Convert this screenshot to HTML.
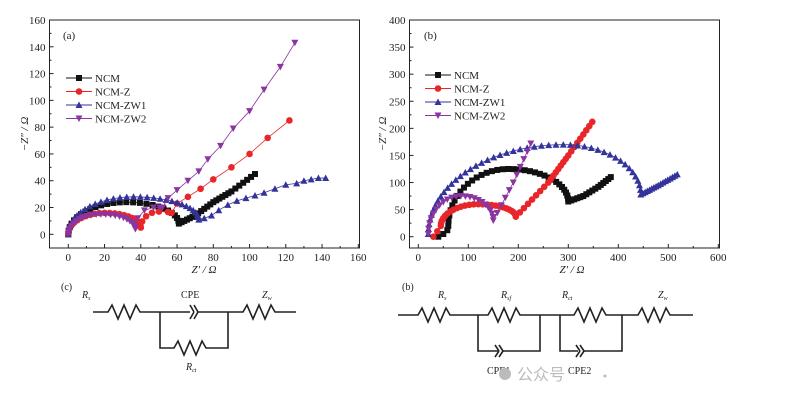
<!DOCTYPE html>
<html><head><meta charset="utf-8"><style>
html,body{margin:0;padding:0;background:#fff}
svg{display:block;font-family:"Liberation Serif",serif}
</style></head><body>
<svg id="s" width="799" height="404" viewBox="0 0 799 404" xmlns="http://www.w3.org/2000/svg">
<rect width="799" height="404" fill="#fff"/>
<rect x="49.5" y="20" width="310" height="228" fill="none" stroke="#222" stroke-width="1"/>
<rect x="409.5" y="20" width="310" height="228" fill="none" stroke="#222" stroke-width="1"/>
<g font-size="11" fill="#222">
<text x="63" y="39">(a)</text>
<text x="424" y="39">(b)</text>
<text x="204" y="273" text-anchor="middle" font-style="italic">Z′ / Ω</text>
<text x="572" y="273" text-anchor="middle" font-style="italic">Z′ / Ω</text>
<text transform="translate(28,134) rotate(-90)" text-anchor="middle" font-style="italic">−Z″ / Ω</text>
<text transform="translate(386,134) rotate(-90)" text-anchor="middle" font-style="italic">−Z″ / Ω</text>
</g>
<g id="ax" font-size="11" fill="#222" stroke="none"></g>
<g id="data"></g>
<g stroke="#222" stroke-width="1.6" fill="none">
<polyline points="93,312 108,312 112,305 118,319 124,305 130,319 136,305 140,312 160,312 190,312"/>
<line x1="190" y1="305" x2="194" y2="312"/><line x1="190" y1="319" x2="194" y2="312"/>
<line x1="194" y1="305" x2="198" y2="312"/><line x1="194" y1="319" x2="198" y2="312"/>
<polyline points="198,312 228,312 243,312 247,305 253,319 259,305 265,319 271,305 275,312 296,312"/>
<polyline points="160,312 160,348 174,348 178,341 184,355 190,341 196,355 202,341 206,348 228,348 228,312"/>
<polyline points="398,315 418,315 422,308 428,322 434,308 440,322 446,308 450,315 478,315 488,315 492,308 498,322 504,308 510,322 516,308 520,315 540,315 560,315 574,315 578,308 584,322 590,308 596,322 602,308 606,315 622,315 638,315 642,308 648,322 654,308 660,322 666,308 670,315 693,315"/>
<polyline points="478,315 478,351 498,351"/><polyline points="502,351 540,351 540,315"/>
<line x1="495" y1="345" x2="499" y2="351"/><line x1="495" y1="357" x2="499" y2="351"/>
<line x1="499" y1="345" x2="503" y2="351"/><line x1="499" y1="357" x2="503" y2="351"/>
<polyline points="560,315 560,351 578,351"/><polyline points="584,351 622,351 622,315"/>
<line x1="576" y1="345" x2="580" y2="351"/><line x1="576" y1="357" x2="580" y2="351"/>
<line x1="580" y1="345" x2="584" y2="351"/><line x1="580" y1="357" x2="584" y2="351"/>
</g>
<g font-size="10" fill="#222">
<text x="61" y="290">(c)</text>
<text x="82" y="298" font-style="italic">R<tspan font-size="6" dy="2">s</tspan></text>
<text x="181" y="298">CPE</text>
<text x="262" y="298" font-style="italic">Z<tspan font-size="6" dy="2">w</tspan></text>
<text x="186" y="370" font-style="italic">R<tspan font-size="6" dy="2">ct</tspan></text>
<text x="402" y="290">(b)</text>
<text x="438" y="298" font-style="italic">R<tspan font-size="6" dy="2">s</tspan></text>
<text x="501" y="298" font-style="italic">R<tspan font-size="6" dy="2">sf</tspan></text>
<text x="562" y="298" font-style="italic">R<tspan font-size="6" dy="2">ct</tspan></text>
<text x="658" y="298" font-style="italic">Z<tspan font-size="6" dy="2">w</tspan></text>
<text x="487" y="374">CPE1</text>
<text x="568" y="374">CPE2</text>
</g>
<g fill="#bbb"><circle cx="505" cy="374" r="6"/><text x="517" y="380" font-size="16" font-family="'Noto Sans CJK SC',sans-serif">公众号</text><circle cx="605" cy="376" r="1.5"/></g>
</svg>
<script>
const NS="http://www.w3.org/2000/svg";
function el(p,t,a,txt){const e=document.createElementNS(NS,t);for(const k in a)e.setAttribute(k,a[k]);if(txt!=null)e.textContent=txt;p.appendChild(e);return e;}
const ax=document.getElementById('ax'),D=document.getElementById('data');
const P=[{x0:68.3,sx:290/160,y0:234.3,sy:214.3/160,xt:[0,20,40,60,80,100,120,140,160],yt:[0,20,40,60,80,100,120,140,160],xm:10,ym:10,L:49.5,R:359.5,T:20,B:248},
{x0:418.3,sx:0.5,y0:236.7,sy:216.7/400,xt:[0,100,200,300,400,500,600],yt:[0,50,100,150,200,250,300,350,400],xm:50,ym:25,L:409.5,R:719.5,T:20,B:248}];
P.forEach(p=>{
 p.xt.forEach(v=>{const x=p.x0+v*p.sx;el(ax,'line',{x1:x,y1:p.B,x2:x,y2:p.B-4,stroke:'#222'});el(ax,'text',{x:x,y:p.B+13,'text-anchor':'middle'},v);
  const xm=x+p.xm*p.sx;if(xm<p.R)el(ax,'line',{x1:xm,y1:p.B,x2:xm,y2:p.B-2,stroke:'#222'});});
 p.yt.forEach(v=>{const y=p.y0-v*p.sy;el(ax,'line',{x1:p.L,y1:y,x2:p.L+4,y2:y,stroke:'#222'});el(ax,'text',{x:p.L-4,y:y+4,'text-anchor':'end'},v);
  const ym=y-p.ym*p.sy;if(ym>p.T)el(ax,'line',{x1:p.L,y1:ym,x2:p.L+2,y2:ym,stroke:'#222'});});
});
// two-quarter arc: rise from (xs,y0) to peak at xp, fall to (xe,y1)
function arc2(xs,xp,xe,h,n,y0,y1){const a=[];const n1=Math.max(2,Math.round(n*(xp-xs)/(xe-xs))),n2=Math.max(2,n-n1);
 for(let i=0;i<=n1;i++){const th=Math.PI/2*i/n1;a.push([xs+(xp-xs)*(1-Math.cos(th)),y0+(h-y0)*Math.sin(th)]);}
 for(let i=1;i<=n2;i++){const th=Math.PI/2*i/n2;a.push([xp+(xe-xp)*Math.sin(th),y1+(h-y1)*Math.cos(th)]);}
 return a;}
function line(pts,n){const a=[];for(let k=0;k<pts.length-1;k++)for(let i=(k?1:0);i<=n;i++){const t=i/n;a.push([pts[k][0]+(pts[k+1][0]-pts[k][0])*t,pts[k][1]+(pts[k+1][1]-pts[k][1])*t]);}return a;}
const C={k:'#111',r:'#e8262a',b:'#33339a',m:'#8a35a0'};
function mk(g,type,x,y,c,s){s=s||3;
 if(type=='s')el(g,'rect',{x:x-s,y:y-s,width:2*s,height:2*s,fill:c});
 else if(type=='c')el(g,'circle',{cx:x,cy:y,r:s+0.3,fill:c});
 else if(type=='t')el(g,'polygon',{points:`${x-s-.5},${y+s} ${x+s+.5},${y+s} ${x},${y-s-.5}`,fill:c});
 else el(g,'polygon',{points:`${x-s-.5},${y-s} ${x+s+.5},${y-s} ${x},${y+s+.5}`,fill:c});}
function series(p,pts,type,c){const g=el(D,'g',{});
 const sc=pts.map(q=>[p.x0+q[0]*p.sx,p.y0-q[1]*p.sy]);
 el(g,'polyline',{points:sc.map(q=>q.join(',')).join(' '),fill:'none',stroke:c,'stroke-width':0.8});
 sc.forEach(q=>mk(g,type,q[0],q[1],c));}
const a=P[0],b=P[1];
series(a,arc2(0,32,61,24,26,0,8).concat(line([[61,8],[70,14],[80,24],[90,32],[103,45]],6).slice(1)),'s',C.k);
series(a,arc2(0,20,40,16,22,0,5).concat(arc2(40,50,57,17,6,5,16).slice(1)).concat([[60,23],[66,28],[73,34],[80,41],[90,50],[100,60],[110,72],[122,85]]),'c',C.r);
series(a,arc2(0,36,72,28,30,0,11).concat([[75,12],[79,14],[83,18],[88,22],[93,25],[98,27],[103,29],[108,31],[114,34],[120,37],[126,38],[130,40],[134,41],[138,42],[142,42]]),'t',C.b);
series(a,arc2(0,18,37,15,22,0,4).concat(arc2(37,47,52,20,5,4,20).slice(1)).concat([[55,27],[60,33],[66,40],[72,47],[77,56],[84,66],[91,79],[100,92],[108,108],[117,125],[125,143]]),'d',C.m);
series(b,[[40,0],[50,5],[58,12]].concat(arc2(60,180,300,125,34,20,65)).concat(line([[300,65],[330,75],[360,92],[385,110]],5).slice(1)),'s',C.k);
series(b,[[30,0],[38,10]].concat(arc2(45,120,195,60,26,20,37)).concat(line([[195,37],[260,100],[300,150],[348,212]],8).slice(1)),'c',C.r);
series(b,arc2(20,290,445,170,46,5,78).concat(line([[445,78],[480,95],[518,115]],8).slice(1)),'t',C.b);
series(b,arc2(20,85,150,75,22,5,30).concat(line([[150,30],[190,100],[225,172]],5).slice(1)),'d',C.m);
function legend(x0,y0){[['NCM','s',C.k],['NCM-Z','c',C.r],['NCM-ZW1','t',C.b],['NCM-ZW2','d',C.m]].forEach((l,i)=>{const y=y0+i*13.5;
 el(D,'line',{x1:x0,y1:y,x2:x0+26,y2:y,stroke:l[2],'stroke-width':0.9});mk(D,l[1],x0+13,y,l[2]);
 el(D,'text',{x:x0+29,y:y+4,'font-size':11,fill:'#222'},l[0]);});}
legend(66,78);legend(425,75);
</script>
</body></html>
